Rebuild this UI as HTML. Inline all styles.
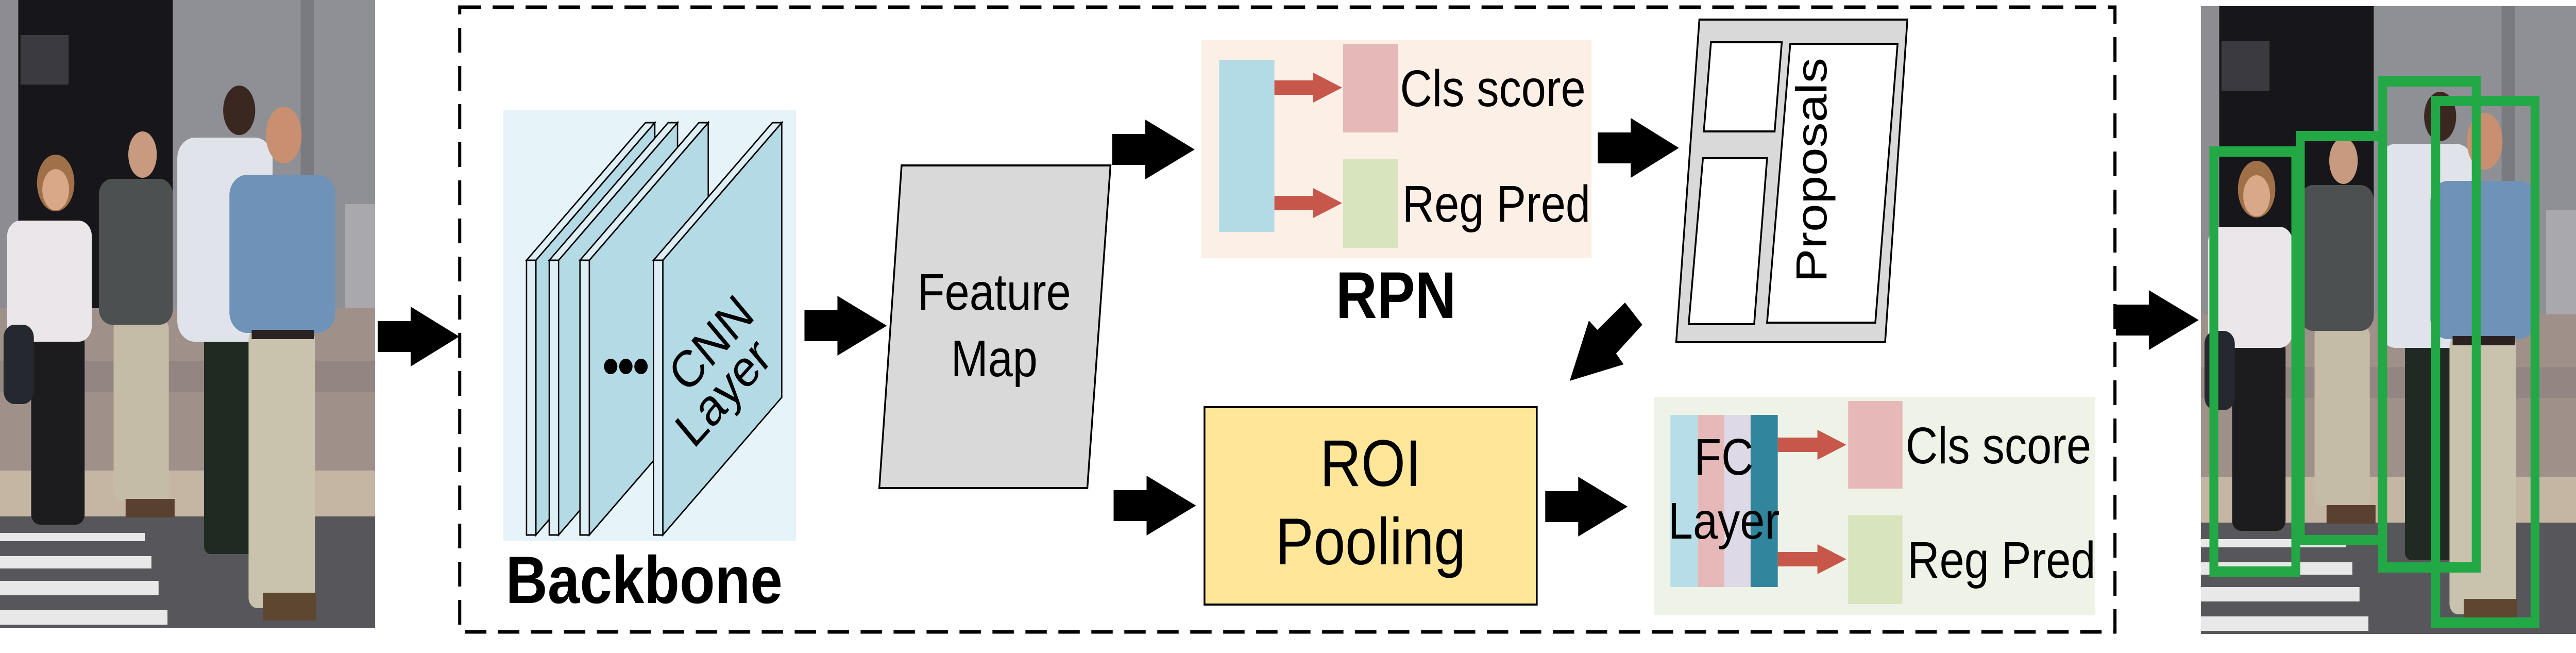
<!DOCTYPE html>
<html><head><meta charset="utf-8"><style>
html,body{margin:0;padding:0;background:#fff;width:100%;height:100%;overflow:hidden;}
svg{display:block;position:absolute;left:0;top:0;width:100vw;height:100vh;}
text{font-family:"Liberation Sans",sans-serif;}
</style></head><body>
<svg viewBox="0 0 5783 1267" preserveAspectRatio="none" xmlns="http://www.w3.org/2000/svg">
<defs>
<g id="photo">
  <rect x="0" y="0" width="842" height="1218" fill="#7a7b80"/>
  <rect x="0" y="0" width="41" height="614" fill="#8c8c92"/>
  <rect x="41" y="0" width="347" height="614" fill="#17171b"/>
  <rect x="46" y="68" width="108" height="96" fill="#3a3a40"/>
  <rect x="388" y="0" width="454" height="598" fill="#8f9095"/>
  <rect x="675" y="0" width="30" height="598" fill="#7a7b80"/>
  <rect x="775" y="396" width="67" height="355" fill="#a9a9ad"/>
  <rect x="0" y="598" width="842" height="320" fill="#a0908a"/>
  <rect x="0" y="700" width="842" height="60" fill="#938682"/>
  <rect x="0" y="913" width="842" height="89" fill="#c4b6a2"/>
  <rect x="0" y="1002" width="842" height="216" fill="#57575b"/>
  <rect x="0" y="1034" width="325" height="16" fill="#e8e8e8"/>
  <rect x="0" y="1079" width="340" height="24" fill="#e8e8e8"/>
  <rect x="0" y="1127" width="356" height="28" fill="#e8e8e8"/>
  <rect x="0" y="1184" width="376" height="28" fill="#e8e8e8"/>
  <rect x="70" y="646" width="120" height="372" rx="20" fill="#1c1c1e"/>
  <rect x="16" y="428" width="190" height="235" rx="30" fill="#eae6ea"/>
  <rect x="8" y="630" width="68" height="154" rx="25" fill="#25282e"/>
  <ellipse cx="125" cy="355" rx="42" ry="55" fill="#a07048"/>
  <ellipse cx="125" cy="368" rx="30" ry="40" fill="#d8a888"/>
  <rect x="255" y="622" width="124" height="348" rx="15" fill="#c4bca6"/>
  <rect x="222" y="347" width="166" height="283" rx="30" fill="#4c5050"/>
  <ellipse cx="320" cy="300" rx="32" ry="45" fill="#c89a80"/>
  <rect x="282" y="968" width="110" height="36" fill="#5a4030"/>
  <rect x="458" y="646" width="117" height="429" rx="15" fill="#1e2a22"/>
  <rect x="398" y="267" width="214" height="396" rx="40" fill="#e0e4ea"/>
  <ellipse cx="537" cy="214" rx="36" ry="48" fill="#3a2820"/>
  <rect x="558" y="638" width="149" height="542" rx="20" fill="#c9c3ae"/>
  <rect x="515" y="339" width="238" height="307" rx="40" fill="#6e92b8"/>
  <rect x="565" y="640" width="140" height="18" fill="#2a2220"/>
  <ellipse cx="637" cy="262" rx="40" ry="55" fill="#c89070"/>
  <rect x="590" y="1150" width="120" height="54" fill="#5e4630"/>
</g>
</defs>

<use href="#photo" x="0" y="0"/>

<rect x="1032" y="14" width="3716" height="1212" fill="none" stroke="#000" stroke-width="7" stroke-dasharray="48 26"/>

<g fill="#000">
<polygon points="848,623 922,623 922,595 1031,653 922,711 922,683 848,683"/>
<polygon points="1806,602 1880,602 1880,574 1991,632 1880,690 1880,662 1806,662"/>
<polygon points="2497,260 2571,260 2571,232 2682,290 2571,348 2571,320 2497,320"/>
<polygon points="2500,951 2574,951 2574,923 2685,981 2574,1039 2574,1011 2500,1011"/>
<polygon points="3587,257 3661,257 3661,229 3769,287 3661,345 3661,317 3587,317"/>
<polygon points="3469,953 3543,953 3543,925 3654,983 3543,1041 3543,1013 3469,1013"/>
<polygon points="4750,591 4824,591 4824,563 4936,621 4824,679 4824,651 4750,651"/>
<polygon points="3648,587 3687,630 3628,686 3645,707 3524,739 3567,622 3586,640"/>
</g>

<rect x="1130" y="214" width="657" height="836" fill="#e6f3f8"/>
<g stroke="#000" stroke-width="3" stroke-linejoin="miter">
  <g>
    <polygon points="1203,505 1470,238 1470,771 1203,1038" fill="#b4dbe5"/>
    <polygon points="1182,505 1449,238 1470,238 1203,505" fill="#ddeef4"/>
    <rect x="1182" y="505" width="21" height="533" fill="#ddeef4"/>
  </g>
  <g>
    <polygon points="1254,505 1521,238 1521,771 1254,1038" fill="#b4dbe5"/>
    <polygon points="1233,505 1500,238 1521,238 1254,505" fill="#ddeef4"/>
    <rect x="1233" y="505" width="21" height="533" fill="#ddeef4"/>
  </g>
  <g>
    <polygon points="1323,505 1590,238 1590,771 1323,1038" fill="#b4dbe5"/>
    <polygon points="1302,505 1569,238 1590,238 1323,505" fill="#ddeef4"/>
    <rect x="1302" y="505" width="21" height="533" fill="#ddeef4"/>
  </g>
  <g>
    <polygon points="1488,505 1755,238 1755,771 1488,1038" fill="#b4dbe5"/>
    <polygon points="1467,505 1734,238 1755,238 1488,505" fill="#ddeef4"/>
    <rect x="1467" y="505" width="21" height="533" fill="#ddeef4"/>
  </g>
</g>
<circle cx="1371" cy="711" r="15" fill="#000"/>
<circle cx="1405" cy="711" r="15" fill="#000"/>
<circle cx="1439" cy="711" r="15" fill="#000"/>
<text x="1595" y="665" font-size="100" text-anchor="middle" dy="36" transform="rotate(-44 1595 665)">CNN</text>
<text x="1622" y="760" font-size="100" text-anchor="middle" dy="36" transform="rotate(-44 1622 760)">Layer</text>
<text x="1446" y="1170" font-size="130" font-weight="bold" text-anchor="middle">Backbone</text>

<polygon points="2024,321 2493,321 2441,947 1974,947" fill="#d9d9d9" stroke="#000" stroke-width="4"/>
<text x="2232" y="601" font-size="100" text-anchor="middle">Feature</text>
<text x="2232" y="730" font-size="100" text-anchor="middle">Map</text>

<rect x="2697" y="78" width="876" height="423" fill="#fcf0e6"/>
<rect x="2737" y="116" width="124" height="334" fill="#b3dbe5"/>
<g fill="#c7574a">
<polygon points="2861,156 2948,156 2948,141 3013,170 2948,199 2948,184 2861,184"/>
<polygon points="2861,380 2948,380 2948,365 3013,394 2948,423 2948,408 2861,408"/>
</g>
<rect x="3015" y="85" width="124" height="172" fill="#e6b9b8"/>
<rect x="3015" y="308" width="124" height="173" fill="#d7e4bd"/>
<text x="3143" y="206" font-size="100">Cls score</text>
<text x="3148" y="430" font-size="100">Reg Pred</text>
<text x="3134" y="617" font-size="128" font-weight="bold" text-anchor="middle">RPN</text>

<polygon points="3815,38 4282,38 4232,664 3763,664" fill="#d9d9d9" stroke="#000" stroke-width="4"/>
<g fill="#fff" stroke="#000" stroke-width="4">
<polygon points="3841,82 4000,82 3984,255 3825,255"/>
<polygon points="3823,307 3967,307 3938,629 3791,629"/>
<polygon points="4019,85 4260,85 4210,626 3967,626"/>
</g>
<text x="4100" y="330" font-size="98" text-anchor="middle" transform="rotate(-90 4100 330)">Proposals</text>

<rect x="2704" y="790" width="746" height="383" fill="#ffe699" stroke="#000" stroke-width="4"/>
<text x="3077" y="943" font-size="128" text-anchor="middle">ROI</text>
<text x="3077" y="1095" font-size="128" text-anchor="middle">Pooling</text>

<rect x="3713" y="770" width="991" height="424" fill="#eff3e7"/>
<rect x="3750" y="805" width="62" height="334" fill="#b7dee8"/>
<rect x="3812" y="805" width="59" height="334" fill="#e6b9b8"/>
<rect x="3871" y="805" width="59" height="334" fill="#ddd9e7"/>
<rect x="3930" y="805" width="61" height="334" fill="#31859c"/>
<text x="3870" y="921" font-size="100" text-anchor="middle">FC</text>
<text x="3870" y="1045" font-size="100" text-anchor="middle">Layer</text>
<g fill="#c7574a">
<polygon points="3991,849 4080,849 4080,834 4145,863 4080,892 4080,877 3991,877"/>
<polygon points="3991,1071 4080,1071 4080,1056 4145,1085 4080,1114 4080,1099 3991,1099"/>
</g>
<rect x="4149" y="778" width="122" height="170" fill="#e6b9b8"/>
<rect x="4149" y="1000" width="122" height="172" fill="#d7e4bd"/>
<text x="4278" y="899" font-size="100">Cls score</text>
<text x="4282" y="1121" font-size="100">Reg Pred</text>

<use href="#photo" x="4941" y="12"/>
<g fill="none" stroke="#23a846" stroke-width="20">
<rect x="4970" y="294" width="184" height="815"/>
<rect x="5164" y="264" width="184" height="784"/>
<rect x="5349" y="158" width="210" height="943"/>
<rect x="5468" y="196" width="223" height="1012"/>
</g>
</svg>
</body></html>
